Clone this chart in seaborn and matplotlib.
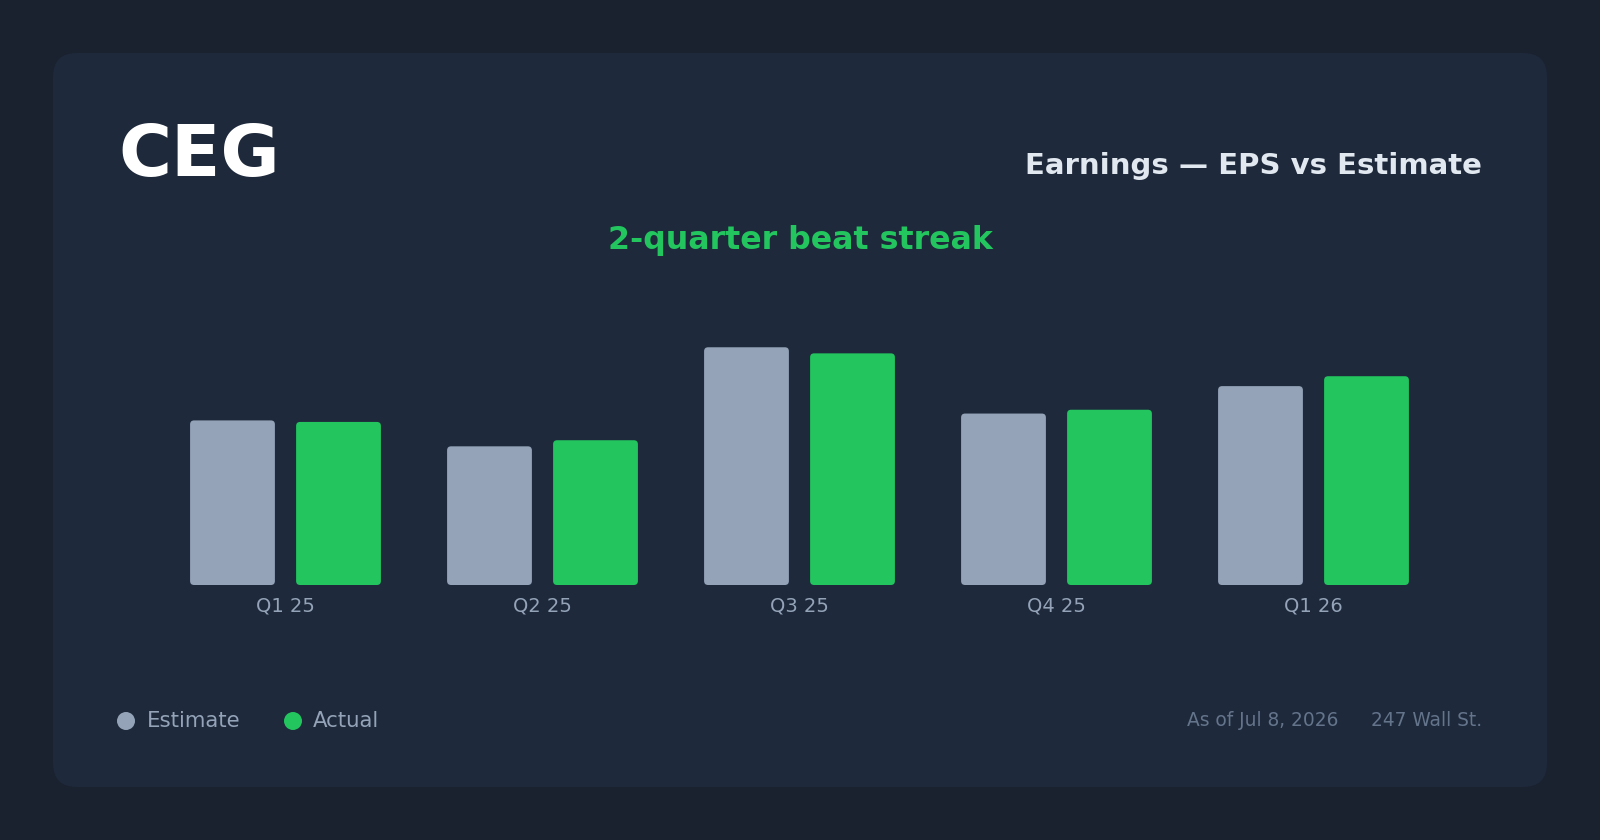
import seaborn as sns
import matplotlib.pyplot as plt
import pandas as pd
from matplotlib.patches import FancyBboxPatch, Circle

quarters = ["Q1 25", "Q2 25", "Q3 25", "Q4 25", "Q1 26"]
estimate = [2.16, 1.82, 3.12, 2.25, 2.61]
actual = [2.14, 1.90, 3.04, 2.30, 2.74]

ticker = "CEG"
title = "Earnings \u2014 EPS vs Estimate"
streak = "2-quarter beat streak"
as_of = "As of Jul 8, 2026"
source = "247 Wall St."

outer_bg = "#1a2230"
card_bg = "#1e293b"
est_col = "#94a3b8"
act_col = "#22c55e"

df = pd.DataFrame({
    "quarter": quarters * 2,
    "eps": estimate + actual,
    "kind": ["Estimate"] * len(quarters) + ["Actual"] * len(quarters),
})

fig = plt.figure(figsize=(16, 8.4), dpi=100, facecolor=outer_bg)

# pixel-space overlay for card, titles, legend and footer
bg = fig.add_axes([0, 0, 1, 1], zorder=0)
bg.set_xlim(0, 1600)
bg.set_ylim(840, 0)
bg.axis("off")
bg.add_patch(FancyBboxPatch((53, 53), 1494, 734,
                            boxstyle="round,pad=0,rounding_size=24",
                            facecolor=card_bg, edgecolor="none"))

bg.text(118, 176, ticker, color="white", fontsize=52, fontweight="bold", va="baseline")
bg.text(1482, 174, title, color="#e2e8f0", fontsize=21, fontweight="bold",
        ha="right", va="baseline")
bg.text(800, 249, streak, color=act_col, fontsize=22.8, fontweight="bold",
        ha="center", va="baseline")

# legend
for cx, tx, lab, col in [(126, 147, "Estimate", est_col), (293, 313, "Actual", act_col)]:
    bg.add_patch(Circle((cx, 721), 9, facecolor=col, edgecolor="none"))
    bg.text(tx, 727, lab, color=est_col, fontsize=15.3, va="baseline")

bg.text(1187, 726, as_of, color="#64748b", fontsize=13.4, va="baseline")
bg.text(1482, 726, source, color="#64748b", fontsize=13.4, ha="right", va="baseline")

# bars
ax = fig.add_axes([157 / 1600, 255 / 840, 1285 / 1600, 304.8 / 840], zorder=1)
ax.set_facecolor("none")
sns.barplot(data=df, x="quarter", y="eps", hue="kind", order=quarters,
            hue_order=["Estimate", "Actual"], palette=[est_col, act_col],
            width=0.825, gap=0.2, legend=False, ax=ax, saturation=1)
ax.set_xlim(-0.5, 4.5)
ax.set_ylim(0, 4)

# round the bar corners
aspect = 257 / 76.2
for p in list(ax.patches):
    x, y = p.get_x(), p.get_y()
    w, h = p.get_width(), p.get_height()
    col = p.get_facecolor()
    p.remove()
    ax.add_patch(FancyBboxPatch((x, y), w, h,
                                boxstyle="round,pad=0,rounding_size=%f" % (4 / 257),
                                mutation_aspect=aspect,
                                facecolor=col, edgecolor="none"))

for s in ax.spines.values():
    s.set_visible(False)
ax.set_yticks([])
ax.set_xlabel("")
ax.set_ylabel("")
ax.tick_params(axis="x", length=0, pad=8.5, labelsize=14, labelcolor=est_col)

fig.savefig("out.png", dpi=100, facecolor=outer_bg)
